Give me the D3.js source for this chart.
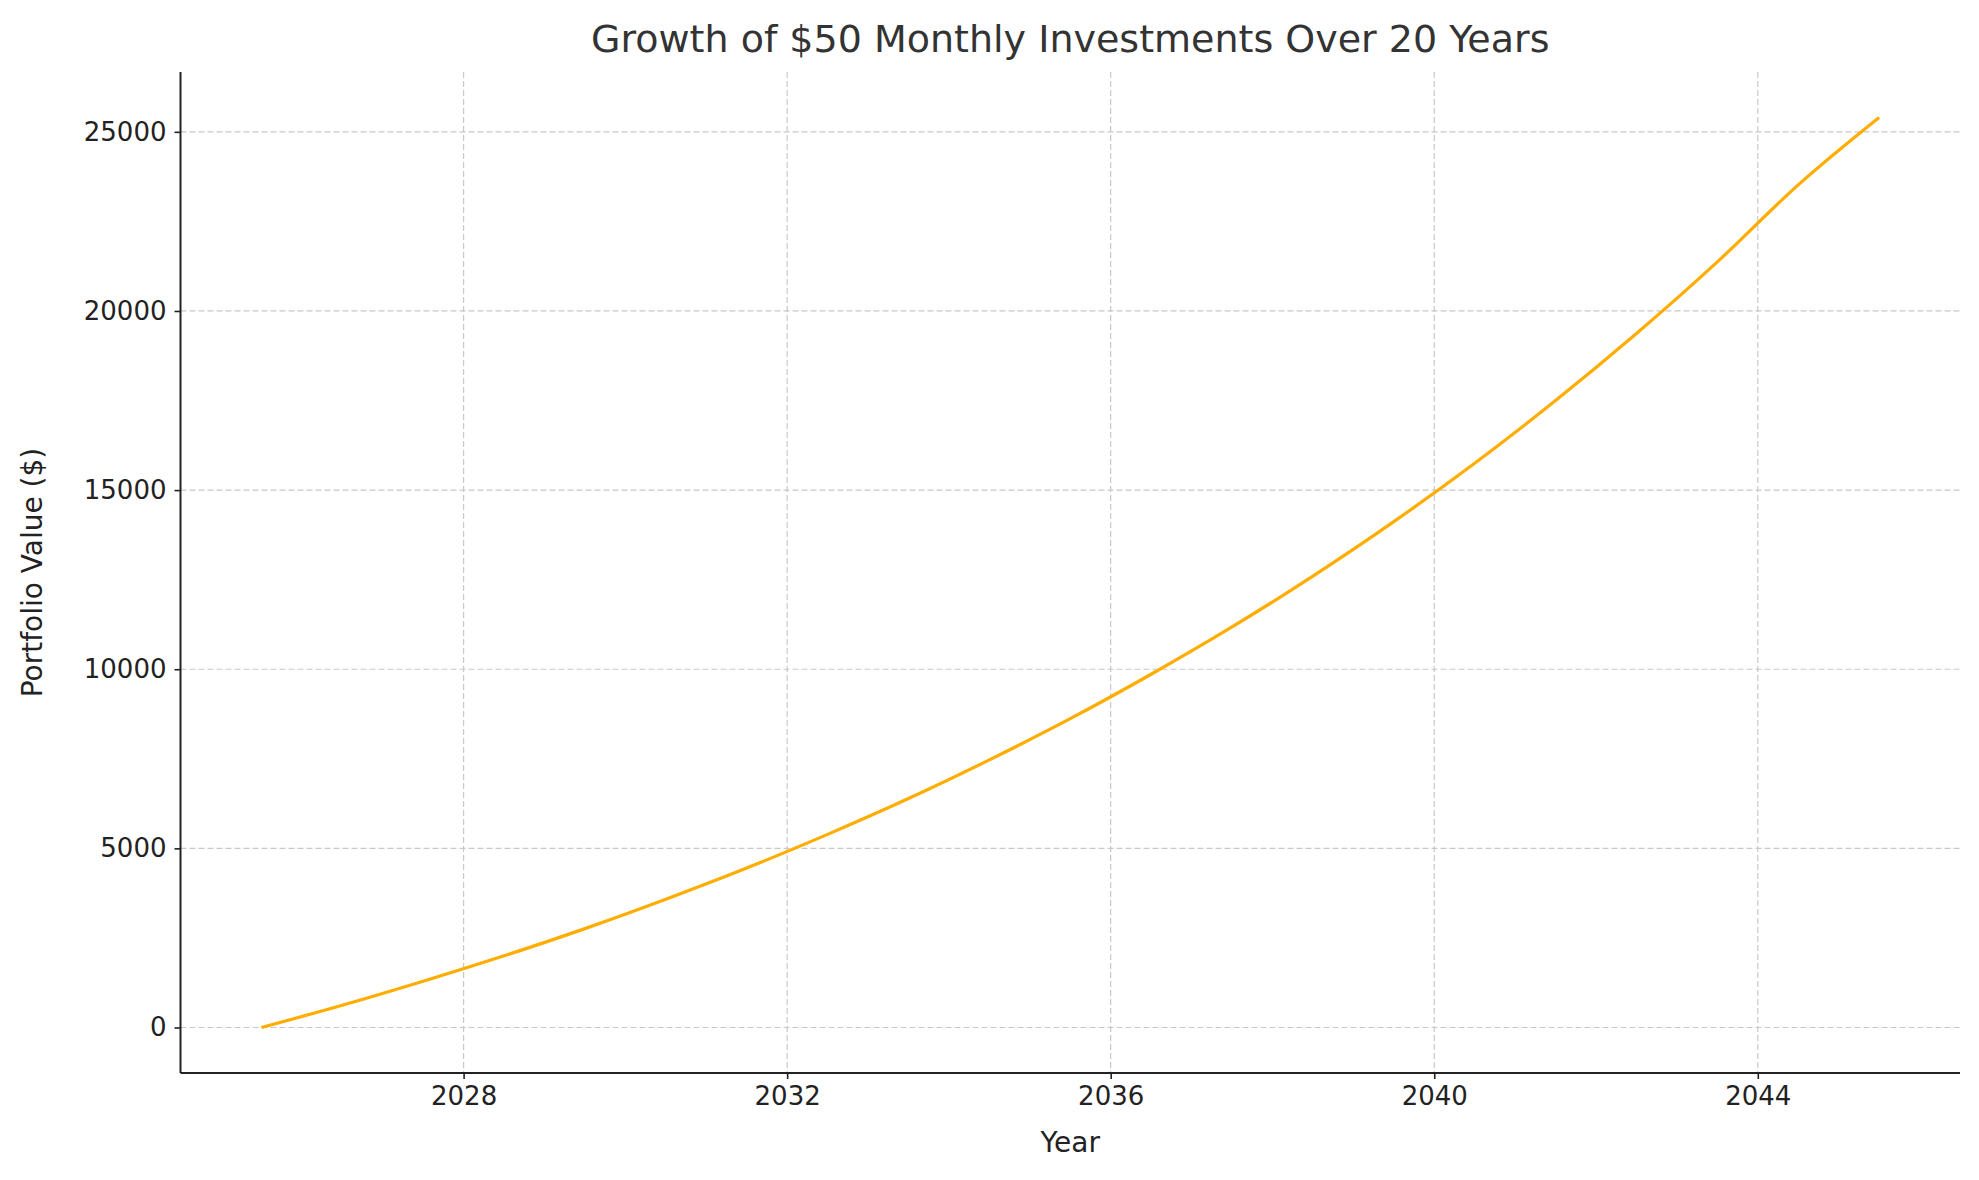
<!DOCTYPE html>
<html>
<head>
<meta charset="utf-8">
<script src="https://cdn.jsdelivr.net/npm/d3@7"></script>
<style>
body { margin: 0; background: #fff; }
text { font-family: "DejaVu Sans", sans-serif; }
</style>
</head>
<body>
<svg id="chart" width="1979" height="1180"></svg>
<script>
// values (yearly points, start mid-2025)
const years = [2025.5, 2026.5, 2027.5, 2028.5, 2029.5, 2030.5, 2031.5, 2032.5, 2033.5, 2034.5, 2035.5,
               2036.5, 2037.5, 2038.5, 2039.5, 2040.5, 2041.5, 2042.5, 2043.5, 2044.5, 2045.5];
const portfolioValues = [0, 620, 1290, 2000, 2760, 3580, 4450, 5390, 6390, 7470, 8620,
                         9860, 11180, 12600, 14120, 15750, 17500, 19370, 21370, 23520, 25400];
const xTicks = [2028, 2032, 2036, 2040, 2044];
const yTicks = [0, 5000, 10000, 15000, 20000, 25000];

const plotLeft = 180.5, plotRight = 1960, plotTop = 72, plotBottom = 1073;
const svg = d3.select('#chart');

var x = d3.scaleLinear().domain([2024.5, 2046.5]).range([plotLeft, plotRight]);
var y = d3.scaleLinear().domain([-1270, 26670]).range([plotBottom, plotTop]);

// grid
svg.append('g').selectAll('line').data(xTicks).enter().append('line')
    .attr('x1', d => x(d)).attr('x2', d => x(d)).attr('y1', plotTop).attr('y2', plotBottom)
    .attr('stroke', '#c8c8c8').attr('stroke-width', 1.2).attr('stroke-dasharray', '6,3');
svg.append('g').selectAll('line').data(yTicks).enter().append('line')
    .attr('x1', plotLeft).attr('x2', plotRight).attr('y1', d => y(d)).attr('y2', d => y(d))
    .attr('stroke', '#c8c8c8').attr('stroke-width', 1.2).attr('stroke-dasharray', '6,3');

// axes
var xAxis = svg.append('g').attr('transform', 'translate(0,' + plotBottom + ')')
    .call(d3.axisBottom(x).tickValues(xTicks).tickFormat(d3.format('d')).tickSize(6).tickPadding(8));
var yAxis = svg.append('g').attr('transform', 'translate(' + plotLeft + ',0)')
    .call(d3.axisLeft(y).tickValues(yTicks).tickFormat(d3.format('d')).tickSize(6).tickPadding(8));
[xAxis, yAxis].forEach(function(a) {
    a.selectAll('.tick line').attr('stroke', '#222').attr('stroke-width', 1.6);
    a.selectAll('.tick text').attr('font-size', 26).attr('fill', '#222')
        .attr('font-family', '"DejaVu Sans", sans-serif');
});
xAxis.select('.domain').attr('d', 'M' + plotLeft + ',0H' + plotRight).attr('stroke', '#222').attr('stroke-width', 2);
yAxis.select('.domain').attr('d', 'M0,' + plotBottom + 'V' + plotTop).attr('stroke', '#222').attr('stroke-width', 2);

// line
var line = d3.line().x((d, i) => x(years[i])).y(d => y(d)).curve(d3.curveMonotoneX);
svg.append('path').datum(portfolioValues)
    .attr('d', line).attr('fill', 'none').attr('stroke', '#ffad00').attr('stroke-width', 3.2);

// labels
svg.append('text').attr('x', (plotLeft + plotRight) / 2).attr('y', 52).attr('text-anchor', 'middle')
    .attr('font-size', 38).attr('fill', '#333').text('Growth of $50 Monthly Investments Over 20 Years');
svg.append('text').attr('x', (plotLeft + plotRight) / 2).attr('y', 1152).attr('text-anchor', 'middle')
    .attr('font-size', 28).attr('fill', '#222').text('Year');
svg.append('text').attr('transform', 'translate(42,' + ((plotTop + plotBottom) / 2) + ') rotate(-90)')
    .attr('text-anchor', 'middle').attr('font-size', 28).attr('fill', '#222').text('Portfolio Value ($)');
</script>
</body>
</html>
